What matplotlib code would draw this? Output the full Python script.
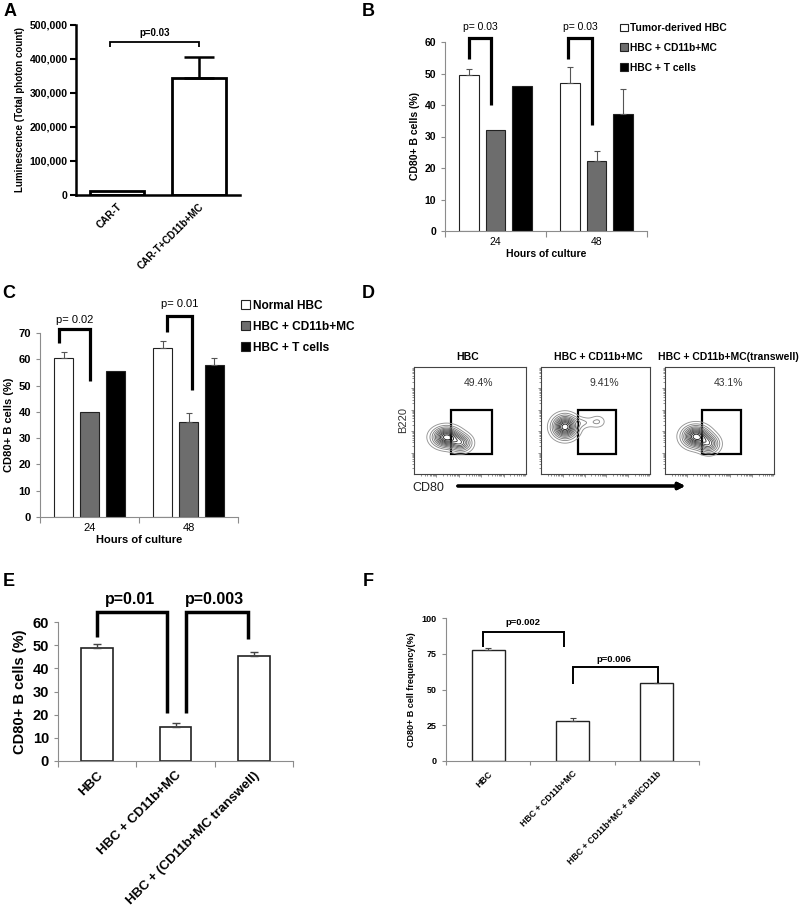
import numpy as np
import matplotlib
matplotlib.use("Agg")
import matplotlib.pyplot as plt
from matplotlib.patches import Rectangle

plt.rcParams["font.family"] = ["Liberation Sans", "DejaVu Sans"]

# ---- data ----
# A
a_labels = ["CAR-T", "CAR-T+CD11b+MC"]
a_values = [13000, 345000]
a_errors = [0, 62000]

# B
hours = ["24", "48"]
b_groups = ["Tumor-derived HBC", "HBC + CD11b+MC", "HBC + T cells"]
b_values = [[49.5, 47.0], [32.0, 22.2], [46.0, 37.0]]
b_errors = [[2.0, 5.0], [0, 3.3], [0, 8.0]]
b_pvals = ["p= 0.03", "p= 0.03"]

# C
c_groups = ["Normal HBC", "HBC + CD11b+MC", "HBC + T cells"]
c_values = [[60.4, 64.4], [40.0, 36.1], [55.7, 57.9]]
c_errors = [[2.2, 2.4], [0, 3.4], [0, 2.4]]
c_pvals = ["p= 0.02", "p= 0.01"]

# D (flow plots: populations as centre x, centre y, spread x, spread y, weight, in decades)
d_titles = ["HBC", "HBC + CD11b+MC", "HBC + CD11b+MC(transwell)"]
d_percent = ["49.4%", "9.41%", "43.1%"]
d_blobs = [
    [(1.45, 1.72, 0.36, 0.27, 1.0), (2.1, 1.45, 0.28, 0.24, 0.55)],
    [(1.1, 2.2, 0.33, 0.31, 1.0), (1.9, 2.4, 0.35, 0.16, 0.12), (2.6, 2.45, 0.22, 0.18, 0.12)],
    [(1.42, 1.75, 0.36, 0.29, 1.0), (2.02, 1.4, 0.28, 0.26, 0.55)],
]
d_gates = [(1.67, 0.94, 3.47, 3.0), (1.7, 0.94, 3.44, 3.0), (1.68, 0.94, 3.5, 3.0)]
d_levels = [0.05, 0.12, 0.2, 0.29, 0.38, 0.47, 0.56, 0.65, 0.74, 0.83, 0.92]

# E
e_labels = ["HBC", "HBC + CD11b+MC", "HBC + (CD11b+MC transwell)"]
e_values = [48.7, 14.5, 45.5]
e_errors = [2.0, 1.8, 1.5]
e_pvals = ["p=0.01", "p=0.003"]

# F
f_labels = ["HBC", "HBC + CD11b+MC", "HBC + CD11b+MC + antiCD11b"]
f_values = [77.5, 28.3, 54.3]
f_errors = [1.5, 1.7, 0.5]
f_pvals = ["p=0.002", "p=0.006"]

W, H = 800, 916
fig = plt.figure(figsize=(W / 100, H / 100), dpi=100)


def pax(l, t, r, b):
    return fig.add_axes([l / W, 1 - b / H, (r - l) / W, (b - t) / H])


def ftext(x, y, s, **kw):
    fig.text(x / W, 1 - y / H, s, **kw)


def light_axes(ax, fs):
    for s in ["top", "right"]:
        ax.spines[s].set_visible(False)
    for s in ["left", "bottom"]:
        ax.spines[s].set_color("#8c8c8c")
        ax.spines[s].set_linewidth(0.8)
    ax.tick_params(axis="y", colors="#8c8c8c", length=3, width=0.8, labelsize=fs,
                   labelcolor="black")
    for t in ax.get_yticklabels():
        t.set_fontweight("bold")


def bracket(ax, x1, x2, y1, ytop, y2, lw):
    ax.plot([x1, x1, x2, x2], [y1, ytop, ytop, y2], color="black", lw=lw,
            clip_on=False, solid_capstyle="butt", solid_joinstyle="miter")


for letter, x, y in [("A", 10, 12), ("B", 368, 12), ("C", 9, 293), ("D", 368, 293),
                     ("E", 9, 581), ("F", 368, 581)]:
    ftext(x, y, letter, fontsize=13, fontweight="bold", ha="center", va="center")

# ---- A ----
ax = pax(76, 25, 240, 195)
ax.bar(range(2), a_values, width=0.66, color="white", edgecolor="black", linewidth=2)
ax.errorbar(1, a_values[1], yerr=[[0], [a_errors[1]]], fmt="none", ecolor="black",
            elinewidth=1.8, capsize=11, capthick=1.8)
ax.set_xlim(-0.5, 1.5)
ax.set_ylim(0, 500000)
for s in ["top", "right"]:
    ax.spines[s].set_visible(False)
for s in ["left", "bottom"]:
    ax.spines[s].set_linewidth(1.8)
ax.set_yticks(range(0, 500001, 100000))
ax.set_yticklabels([f"{v:,}" for v in range(0, 500001, 100000)], fontsize=7.6, fontweight="bold")
ax.tick_params(axis="y", length=4, width=1.5, pad=2)
ax.set_xticks(range(2))
ax.set_xticklabels(a_labels, rotation=45, ha="right", rotation_mode="anchor",
                   fontsize=7.2, fontweight="bold")
ax.tick_params(axis="x", length=0, pad=5)
ax.set_ylabel("Luminescence (Total photon count)", fontsize=7.0, fontweight="bold", labelpad=3)
bracket(ax, -0.08, 1.0, 435000, 450000, 435000, 1.3)
ax.text(0.46, 476000, "p=0.03", ha="center", va="center", fontsize=7, fontweight="bold")


def grouped(ax, values, errors, groups, pvals, ylim, legend_xy, fs, lfs, spacing, brk):
    offs = [-0.26, 0, 0.26]
    colors = ["white", "#6d6d6d", "black"]
    x = np.arange(2)
    for i in range(3):
        ax.bar(x + offs[i], values[i], 0.195, color=colors[i], edgecolor="#222222",
               linewidth=0.8, label=groups[i])
        for j in range(2):
            if errors[i][j] > 0:
                ax.errorbar(x[j] + offs[i], values[i][j], yerr=[[0], [errors[i][j]]],
                            fmt="none", ecolor="#555555", elinewidth=0.8, capsize=2,
                            capthick=0.8)
    ax.set_xlim(-0.5, 1.5)
    ax.set_ylim(0, ylim)
    ax.set_yticks(range(0, ylim + 1, 10))
    light_axes(ax, fs)
    ax.set_xticks(x)
    ax.set_xticklabels(hours, fontsize=fs)
    ax.set_xticks([-0.5, 0.5, 1.5], minor=True)
    ax.tick_params(axis="x", which="major", length=0, pad=4)
    ax.tick_params(axis="x", which="minor", length=4, width=0.8, colors="#8c8c8c")
    ax.set_xlabel("Hours of culture", fontsize=fs, fontweight="bold", labelpad=2)
    ax.set_ylabel("CD80+ B cells (%)", fontsize=fs, fontweight="bold", labelpad=3)
    for j in range(2):
        x1, x2, y1, yt, y2, ty = brk[j]
        bracket(ax, x1, x2, y1, yt, y2, 2.3)
        ax.text((x1 + x2) / 2, ty, pvals[j], ha="center", va="center", fontsize=fs)
    ax.legend(loc="upper left", bbox_to_anchor=legend_xy, bbox_transform=fig.transFigure,
              frameon=False, prop={"size": lfs, "weight": "bold"},
              handlelength=0.75, handleheight=0.75, handletextpad=0.25,
              labelspacing=spacing, borderpad=0, borderaxespad=0)


# ---- B ----
ax = pax(445, 42, 647, 231)
grouped(ax, b_values, b_errors, b_groups, b_pvals, 60, (620 / W, 1 - 23 / H), 7.5, 7.4, 0.95,
        [(-0.26, -0.045, 54.6, 61.3, 40.0, 64.8), (0.72, 0.955, 54.6, 61.3, 33.6, 64.8)])

# ---- C ----
ax = pax(40, 333, 238, 517)
grouped(ax, c_values, c_errors, c_groups, c_pvals, 70, (241 / W, 1 - 300 / H), 8.0, 8.6, 0.75,
        [(-0.31, 0.005, 66.1, 71.4, 51.8, 74.8), (0.78, 1.04, 70.4, 76.5, 48.4, 81.2)])

# ---- D ----
box_x = [(414, 526), (541, 650), (665, 774)]
title_x = [468, 598, 728]
gx = np.linspace(0, 5, 400)
GX, GY = np.meshgrid(gx, gx)
minor = [d + np.log10(k) for d in range(5) for k in range(2, 10)]
for k in range(3):
    l, r = box_x[k]
    ax = pax(l, 367, r, 474)
    Z = np.zeros_like(GX)
    for cx, cy, sx, sy, w in d_blobs[k]:
        Z += w * np.exp(-0.5 * ((GX - cx) / sx) ** 2 - 0.5 * ((GY - cy) / sy) ** 2)
    Z /= Z.max()
    shades = plt.cm.Greys(np.linspace(0.5, 0.9, len(d_levels)))
    ax.contour(GX, GY, Z, levels=d_levels, colors=shades, linewidths=0.65)
    g = d_gates[k]
    ax.add_patch(Rectangle((g[0], g[1]), g[2] - g[0], g[3] - g[1], fill=False,
                           edgecolor="black", linewidth=1.6))
    ax.set_xlim(0, 5)
    ax.set_ylim(0, 5)
    for s in ax.spines.values():
        s.set_color("#444444")
        s.set_linewidth(0.8)
    ax.set_xticks([1, 2, 3, 4])
    ax.set_yticks([1, 2, 3, 4])
    ax.set_xticks(minor, minor=True)
    ax.set_yticks(minor, minor=True)
    ax.tick_params(which="both", labelbottom=False, labelleft=False, color="#666666",
                   width=0.5)
    ax.tick_params(which="major", length=2.5)
    ax.tick_params(which="minor", length=1.3)
    ftext(title_x[k], 357, d_titles[k], ha="center", va="center", fontsize=7.5,
          fontweight="bold")
    ftext(l + 0.58 * (r - l), 383, d_percent[k], ha="center", va="center", fontsize=7.5,
          color="#333333")
ftext(403, 420, "B220", rotation=90, ha="center", va="center", fontsize=8, color="#333333")
ftext(428, 488, "CD80", ha="center", va="center", fontsize=9, color="#222222")
fig.add_artist(plt.annotate("", xy=(688 / W, 1 - 486 / H), xytext=(455 / W, 1 - 486 / H),
                            xycoords="figure fraction",
                            arrowprops=dict(arrowstyle="-|>", lw=2.2, color="black",
                                            mutation_scale=10)))

# ---- E ----
ax = pax(58, 622, 293, 761)
ax.bar(range(3), e_values, 0.4, color="white", edgecolor="#222222", linewidth=1.2)
ax.errorbar(range(3), e_values, yerr=[[0] * 3, e_errors], fmt="none", ecolor="#444444",
            elinewidth=1, capsize=3, capthick=1)
ax.set_xlim(-0.5, 2.5)
ax.set_ylim(0, 60)
ax.set_yticks(range(0, 61, 10))
light_axes(ax, 10.5)
ax.set_xticks(range(3))
ax.set_xticklabels(e_labels, rotation=45, ha="right", rotation_mode="anchor", fontsize=9.5,
                   fontweight="bold")
ax.set_xticks([-0.5, 0.5, 1.5, 2.5], minor=True)
ax.tick_params(axis="x", which="major", length=0, pad=6)
ax.tick_params(axis="x", which="minor", length=4, width=0.8, colors="#8c8c8c")
ax.set_ylabel("CD80+ B cells (%)", fontsize=10.5, fontweight="bold", labelpad=4)
bracket(ax, 0.0, 0.89, 53.5, 64.3, 20.7, 2.5)
bracket(ax, 1.135, 1.93, 20.7, 64.3, 52.6, 2.5)
ax.text(0.42, 69.5, e_pvals[0], ha="center", va="center", fontsize=11.5, fontweight="bold")
ax.text(1.5, 69.5, e_pvals[1], ha="center", va="center", fontsize=11.5, fontweight="bold")

# ---- F ----
ax = pax(446, 618, 699, 761)
ax.bar(range(3), f_values, 0.39, color="white", edgecolor="#222222", linewidth=1.0)
ax.errorbar(range(3), f_values, yerr=[[0] * 3, f_errors], fmt="none", ecolor="#444444",
            elinewidth=0.8, capsize=2, capthick=0.8)
ax.set_xlim(-0.5, 2.5)
ax.set_ylim(0, 100)
ax.set_yticks(range(0, 101, 25))
light_axes(ax, 6.5)
ax.set_xticks(range(3))
ax.set_xticklabels(f_labels, rotation=45, ha="right", rotation_mode="anchor", fontsize=6.3,
                   fontweight="bold")
ax.set_xticks([-0.5, 0.5, 1.5, 2.5], minor=True)
ax.tick_params(axis="x", which="major", length=0, pad=6)
ax.tick_params(axis="x", which="minor", length=3, width=0.8, colors="#8c8c8c")
ax.set_ylabel("CD80+ B cell frequency(%)", fontsize=6.5, fontweight="bold", labelpad=4)
bracket(ax, -0.065, 0.9, 79.7, 90.2, 79.7, 1.4)
bracket(ax, 1.01, 2.01, 53.8, 65.7, 54.3, 1.4)
ax.text(0.41, 97.2, f_pvals[0], ha="center", va="center", fontsize=6.8, fontweight="bold")
ax.text(1.49, 71.3, f_pvals[1], ha="center", va="center", fontsize=6.8, fontweight="bold")

fig.savefig("out.png", dpi=100)
